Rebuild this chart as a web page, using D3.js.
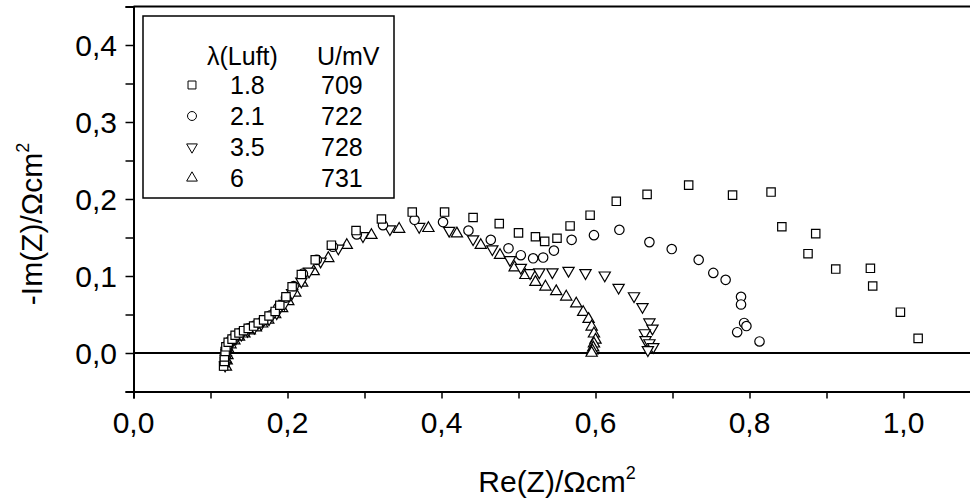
<!DOCTYPE html>
<html>
<head>
<meta charset="utf-8">
<script src="https://cdn.jsdelivr.net/npm/d3@7"></script>
<style>
  body { margin: 0; background: #fff; }
  svg { display: block; font-family: Arial, "Liberation Sans", sans-serif; }
</style>
</head>
<body>
<svg id="chart_svg"></svg>
<script>
// lambda(Luft) = 1.8, U = 709 mV
const sq_x = [0.117, 0.118, 0.118, 0.119, 0.120, 0.123, 0.128, 0.132, 0.137, 0.143, 0.149, 0.156, 0.162, 0.169, 0.176, 0.184, 0.190, 0.198, 0.206, 0.218, 0.236, 0.257, 0.289, 0.322, 0.362, 0.404, 0.441, 0.475, 0.500, 0.522, 0.534, 0.550, 0.567, 0.593, 0.627, 0.667, 0.721, 0.778, 0.828, 0.842, 0.886, 0.876, 0.912, 0.957, 0.960, 0.996, 1.019];
const sq_y = [-0.017, -0.011, -0.005, 0.002, 0.008, 0.014, 0.018, 0.023, 0.026, 0.029, 0.032, 0.035, 0.039, 0.043, 0.048, 0.054, 0.062, 0.073, 0.086, 0.102, 0.121, 0.140, 0.159, 0.174, 0.183, 0.183, 0.176, 0.168, 0.156, 0.151, 0.145, 0.149, 0.165, 0.179, 0.197, 0.206, 0.218, 0.205, 0.209, 0.164, 0.155, 0.129, 0.109, 0.110, 0.087, 0.053, 0.019];

// lambda = 2.1, U = 722 mV
const ci_x = [0.118, 0.119, 0.120, 0.122, 0.126, 0.132, 0.140, 0.149, 0.158, 0.168, 0.178, 0.188, 0.198, 0.208, 0.220, 0.238, 0.259, 0.290, 0.324, 0.365, 0.402, 0.435, 0.464, 0.487, 0.503, 0.519, 0.532, 0.546, 0.569, 0.598, 0.631, 0.670, 0.699, 0.734, 0.753, 0.769, 0.789, 0.789, 0.793, 0.796, 0.784, 0.813];
const ci_y = [-0.014, -0.006, 0.002, 0.010, 0.016, 0.022, 0.027, 0.032, 0.036, 0.042, 0.049, 0.059, 0.072, 0.087, 0.103, 0.121, 0.138, 0.154, 0.166, 0.173, 0.170, 0.159, 0.147, 0.136, 0.127, 0.123, 0.124, 0.133, 0.147, 0.153, 0.160, 0.144, 0.135, 0.121, 0.104, 0.095, 0.073, 0.063, 0.039, 0.035, 0.027, 0.015];

// lambda = 3.5, U = 728 mV
const td_x = [0.119, 0.120, 0.121, 0.123, 0.127, 0.133, 0.140, 0.148, 0.157, 0.166, 0.176, 0.186, 0.196, 0.206, 0.218, 0.228, 0.243, 0.266, 0.298, 0.333, 0.371, 0.410, 0.441, 0.466, 0.489, 0.503, 0.515, 0.527, 0.544, 0.565, 0.587, 0.612, 0.630, 0.650, 0.661, 0.670, 0.674, 0.664, 0.665, 0.670, 0.675, 0.668];
const td_y = [-0.016, -0.008, 0.000, 0.007, 0.013, 0.019, 0.024, 0.029, 0.033, 0.038, 0.044, 0.052, 0.064, 0.078, 0.093, 0.106, 0.119, 0.136, 0.152, 0.161, 0.164, 0.159, 0.148, 0.135, 0.121, 0.111, 0.104, 0.105, 0.105, 0.107, 0.104, 0.101, 0.085, 0.074, 0.060, 0.040, 0.032, 0.026, 0.017, 0.013, 0.008, 0.004];

// lambda = 6, U = 731 mV
const tu_x = [0.120, 0.121, 0.122, 0.123, 0.126, 0.131, 0.137, 0.144, 0.151, 0.159, 0.167, 0.175, 0.184, 0.193, 0.201, 0.210, 0.219, 0.234, 0.253, 0.277, 0.309, 0.345, 0.383, 0.420, 0.451, 0.476, 0.495, 0.509, 0.522, 0.535, 0.549, 0.562, 0.575, 0.584, 0.591, 0.595, 0.598, 0.600, 0.598, 0.597, 0.596, 0.595];
const tu_y = [-0.018, -0.010, -0.003, 0.005, 0.011, 0.016, 0.021, 0.025, 0.029, 0.033, 0.038, 0.043, 0.050, 0.058, 0.067, 0.078, 0.091, 0.106, 0.123, 0.140, 0.153, 0.161, 0.162, 0.155, 0.140, 0.127, 0.111, 0.101, 0.092, 0.086, 0.080, 0.073, 0.064, 0.053, 0.044, 0.034, 0.025, 0.017, 0.012, 0.007, 0.003, 0.000];

// legend rows
const lambdas = ["1.8", "2.1", "3.5", "6"];
const voltages = ["709", "722", "728", "731"];
const symbols = ["square", "circle", "triangleDown", "triangleUp"];

const xTicks = [0.0, 0.2, 0.4, 0.6, 0.8, 1.0];
const yTicks = [0.0, 0.1, 0.2, 0.3, 0.4];

const width = 970, height = 501;
const margin = { left: 133.5, top: 6.5, bottom: 391.5 };

const svg = d3.select("#chart_svg")
  .attr("width", width)
  .attr("height", height);

// same scale on both axes (Nyquist plot)
const x = d3.scaleLinear().domain([0, 1.1]).range([margin.left, margin.left + 847]);
const y = d3.scaleLinear().domain([-0.05, 0.45]).range([margin.bottom, margin.top]);

const fmt = d => d3.format(".1f")(d).replace(".", ",");

// x axis
const xAxis = svg.append("g")
  .attr("transform", `translate(0,${margin.bottom})`)
  .call(d3.axisBottom(x).tickValues(d3.range(0, 1.11, 0.1)).tickSize(7).tickFormat(""));
xAxis.select(".domain").attr("stroke-width", 2);
xAxis.selectAll(".tick line").attr("stroke-width", 1.5);

svg.append("g").selectAll("text")
  .data(xTicks)
  .enter().append("text")
  .attr("x", d => x(d))
  .attr("y", 433)
  .attr("text-anchor", "middle")
  .attr("font-size", 30)
  .text(fmt);

// y axis
const yAxis = svg.append("g")
  .attr("transform", `translate(${margin.left},0)`)
  .call(d3.axisLeft(y).tickValues(d3.range(-0.05, 0.451, 0.05)).tickSize(8).tickFormat(""));
yAxis.select(".domain").attr("stroke-width", 2);
yAxis.selectAll(".tick line").attr("stroke-width", 1.5);

svg.append("g").selectAll("text")
  .data(yTicks)
  .enter().append("text")
  .attr("x", 117)
  .attr("y", d => y(d) + 11)
  .attr("text-anchor", "end")
  .attr("font-size", 30)
  .text(fmt);

// top frame and zero line
svg.append("line")
  .attr("x1", margin.left).attr("x2", width)
  .attr("y1", margin.top).attr("y2", margin.top)
  .attr("stroke", "#000").attr("stroke-width", 2);
svg.append("line")
  .attr("x1", margin.left).attr("x2", width)
  .attr("y1", y(0)).attr("y2", y(0))
  .attr("stroke", "#000").attr("stroke-width", 2);

// axis titles
const xt = svg.append("text")
  .attr("x", 557).attr("y", 492)
  .attr("text-anchor", "middle")
  .attr("font-size", 30)
  .text("Re(Z)/\u03A9cm");
xt.append("tspan").attr("dy", -13).attr("font-size", 18).text("2");

const yt = svg.append("text")
  .attr("transform", "translate(42,224) rotate(-90)")
  .attr("text-anchor", "middle")
  .attr("font-size", 30)
  .text("-Im(Z)/\u03A9cm");
yt.append("tspan").attr("dy", -13).attr("font-size", 18).text("2");

// markers
const symType = {
  square: d3.symbolSquare,
  circle: d3.symbolCircle,
  triangleUp: d3.symbolTriangle,
  triangleDown: d3.symbolTriangle
};
function marker(sel, kind, size) {
  sel.attr("d", d3.symbol().type(symType[kind]).size(size))
    .attr("fill", "#fff")
    .attr("stroke", "#000")
    .attr("stroke-width", 1.2);
}

const series = [
  { kind: "triangleUp", xs: tu_x, ys: tu_y },
  { kind: "triangleDown", xs: td_x, ys: td_y },
  { kind: "circle", xs: ci_x, ys: ci_y },
  { kind: "square", xs: sq_x, ys: sq_y }
];
const sizes = { square: 70, circle: 70, triangleUp: 55, triangleDown: 55 };

series.forEach(s => {
  const pts = s.xs.map((v, i) => [v, s.ys[i]]);
  svg.append("g")
    .selectAll("path")
    .data(pts)
    .enter().append("path")
    .call(marker, s.kind, sizes[s.kind])
    .attr("transform", d => `translate(${x(d[0])},${y(d[1])})` + (s.kind === "triangleDown" ? " rotate(180)" : ""));
});

// legend
const legend = svg.append("g");
legend.append("rect")
  .attr("x", 143).attr("y", 16)
  .attr("width", 251).attr("height", 182)
  .attr("fill", "#fff")
  .attr("stroke", "#000").attr("stroke-width", 1.5);
legend.append("text").attr("x", 207).attr("y", 65).attr("font-size", 25).text("\u03BB(Luft)");
legend.append("text").attr("x", 317).attr("y", 65).attr("font-size", 25).text("U/mV");

const rowY = i => 85 + i * 31;
lambdas.forEach((l, i) => {
  legend.append("path")
    .call(marker, symbols[i], sizes[symbols[i]] * 0.9)
    .attr("stroke-width", 1)
    .attr("transform", `translate(192,${rowY(i)})` + (symbols[i] === "triangleDown" ? " rotate(180)" : ""));
  legend.append("text").attr("x", 230).attr("y", rowY(i) + 9).attr("font-size", 25).text(l);
  legend.append("text").attr("x", 321).attr("y", rowY(i) + 9).attr("font-size", 25).text(voltages[i]);
});
</script>
</body>
</html>
